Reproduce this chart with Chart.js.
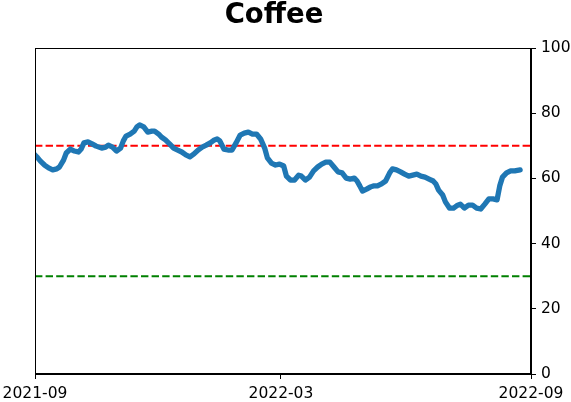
<!DOCTYPE html>
<html>
<head>
<meta charset="utf-8">
<script src="https://cdn.jsdelivr.net/npm/chart.js@4"></script>
<style>
html,body{margin:0;padding:0;background:#fff;}
#wrap{width:571px;height:402px;}
</style>
</head>
<body>
<div id="wrap"><canvas id="c" width="571" height="402"></canvas></div>
<script>
const title = "Coffee";
// days since 2021-09-01
const days = [0,2,4,7,10,13,16,18,21,23,26,29,32,34,36,39,42,45,49,52,54,57,60,63,65,67,70,73,75,77,80,83,86,88,91,93,96,99,102,105,108,111,114,117,120,123,126,129,132,134,136,139,142,145,148,151,154,157,160,163,166,169,171,174,177,180,183,185,188,191,194,196,199,202,205,208,211,214,217,220,223,226,229,232,235,237,239,241,244,247,249,252,255,258,261,263,266,269,272,275,278,281,284,287,290,293,295,297,300,302,305,308,311,313,316,319,322,325,328,331,334,337,340,342,344,347,350,353,357];
const values = [67.2,66.3,65.3,64.1,63.2,62.6,62.9,63.5,65.6,67.8,69.0,68.4,68.1,69.0,70.9,71.2,70.6,69.9,69.3,69.6,70.2,69.6,68.4,69.3,71.5,73.0,73.6,74.5,75.8,76.4,75.8,74.2,74.5,74.5,73.6,72.7,71.8,70.6,69.3,68.7,68.1,67.2,66.6,67.5,68.7,69.6,70.2,70.9,71.8,72.1,71.5,69.0,68.7,68.7,70.9,73.3,73.9,74.2,73.6,73.6,72.1,69.3,66.3,64.7,64.1,64.4,63.8,60.7,59.5,59.5,61.0,60.7,59.5,60.4,62.3,63.5,64.4,65.0,65.0,63.5,62.0,61.7,60.1,59.8,60.1,59.2,57.7,56.1,56.7,57.4,57.7,57.7,58.3,59.2,61.7,62.9,62.6,62.0,61.3,60.7,61.0,61.3,60.7,60.4,59.8,59.2,58.3,56.4,54.9,52.8,50.9,50.9,51.8,52.1,50.9,51.8,51.8,50.9,50.6,52.1,53.7,53.7,53.4,57.7,60.4,61.7,62.3,62.3,62.6];
const upperLevel = 70;
const lowerLevel = 30;
const xTickDays = [0,181,365];
const xTickLabels = ["2021-09","2022-03","2022-09"];
const yTicks = [0,20,40,60,80,100];

const points = days.map((d,i)=>({x:d,y:values[i]}));
const FONT = "'DejaVu Sans', sans-serif";

const boxPlugin = {
  id:'box',
  afterDraw(chart){
    const a = chart.chartArea, ctx = chart.ctx;
    ctx.save();
    ctx.strokeStyle = '#000';
    ctx.lineWidth = 1;
    ctx.strokeRect(Math.round(a.left)+0.5, Math.round(a.top)+0.5, Math.round(a.right-a.left)-1, Math.round(a.bottom-a.top)-1);
    ctx.fillStyle = '#000';
    ctx.font = "bold 27.5px 'DejaVu Sans', sans-serif";
    ctx.textAlign = 'center';
    ctx.textBaseline = 'alphabetic';
    ctx.fillText(title, 274, 23);
    ctx.restore();
  }
};

new Chart(document.getElementById('c'), {
  type:'line',
  data:{
    datasets:[
      {data:points, borderColor:'#1f77b4', borderWidth:5.3, pointRadius:0, tension:0, borderJoinStyle:'round', borderCapStyle:'round', fill:false, order:0},
      {data:[{x:0,y:upperLevel},{x:365,y:upperLevel}], borderColor:'#ff0000', borderWidth:2, borderDash:[7.4,3.2], pointRadius:0, fill:false, order:1},
      {data:[{x:0,y:lowerLevel},{x:365,y:lowerLevel}], borderColor:'#008000', borderWidth:2, borderDash:[7.4,3.2], pointRadius:0, fill:false, order:1}
    ]
  },
  options:{
    responsive:false,
    animation:false,
    events:[],
    layout:{padding:{left:35,top:48,right:0,bottom:0}},
    plugins:{
      legend:{display:false},
      tooltip:{enabled:false},
      title:{display:false}
    },
    scales:{
      x:{
        type:'linear', min:0, max:365,
        afterBuildTicks(s){ s.ticks = xTickDays.map(v=>({value:v})); },
        afterFit(s){ s.height = 28; s.paddingLeft = 0; s.paddingRight = 0; },
        ticks:{color:'#000', font:{family:FONT,size:15.5}, padding:6, maxRotation:0, autoSkip:false,
          callback(v){ const i = xTickDays.indexOf(v); return i>=0 ? xTickLabels[i] : ''; }},
        grid:{drawOnChartArea:false, drawTicks:true, tickLength:5, color:'#000'},
        border:{display:true, color:'#000', width:1}
      },
      y:{
        position:'right', min:0, max:100,
        afterBuildTicks(s){ s.ticks = yTicks.map(v=>({value:v})); },
        afterFit(s){ s.width = 40; s.paddingTop = 0; s.paddingBottom = 0; },
        ticks:{color:'#000', font:{family:FONT,size:15.5}, padding:5},
        grid:{drawOnChartArea:false, drawTicks:true, tickLength:5, color:'#000'},
        border:{display:true, color:'#000', width:1}
      }
    }
  },
  plugins:[boxPlugin]
});
</script>
</body>
</html>
